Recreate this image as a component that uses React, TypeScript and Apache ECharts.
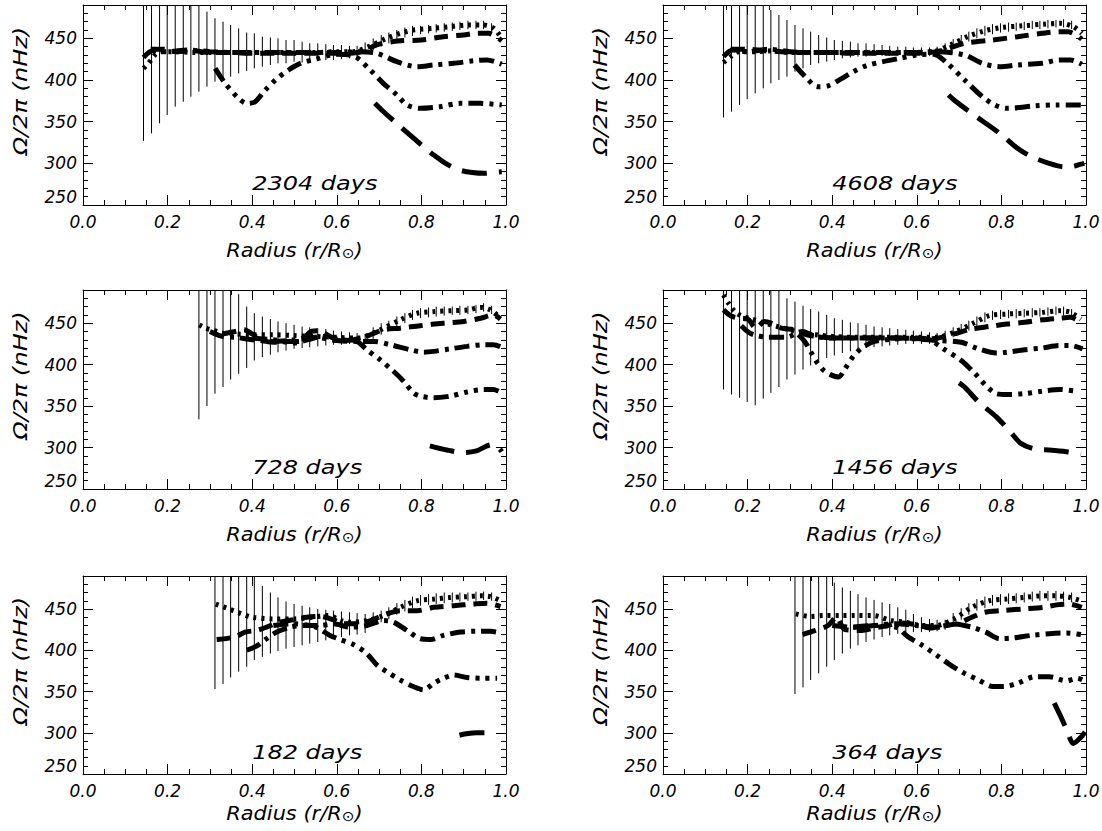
import { useEffect, useRef } from 'react';
import * as echarts from 'echarts';

// ---------- data ----------
const X_TICKS = [0, 0.2, 0.4, 0.6, 0.8, 1.0];
const Y_TICKS = [250, 300, 350, 400, 450];
const PANEL_LABELS = ['2304 days', '4608 days', '728 days', '1456 days', '182 days', '364 days'];

// radial positions of the error bars
const R_GRID = [0.143, 0.162, 0.181, 0.199, 0.218, 0.237, 0.255, 0.274, 0.293, 0.312, 0.331, 0.349, 0.368, 0.387, 0.405, 0.424, 0.443, 0.461, 0.480, 0.499, 0.518, 0.536, 0.555, 0.574, 0.592, 0.611, 0.630, 0.648, 0.667, 0.686, 0.705, 0.723, 0.742, 0.761, 0.779, 0.798, 0.817, 0.835, 0.854, 0.873, 0.891, 0.910, 0.929, 0.947, 0.966, 0.985];

const E2304_LO = [327, 336, 348, 358, 368, 374, 380, 386, 392, 398, 402, 404, 408, 411, 414, 416, 418, 420, 420, 422, 421, 422, 423, 424, 424, 425, 426, 426, 431, 436, 440, 444, 448, 451, 453, 455, 456, 457, 458, 459, 460, 461, 461, 461, 458, null];
const E2304_HI = [545, 535, 525, 515, 506, 500, 496, 492, 482, 474, 470, 466, 462, 457, 456, 452, 451, 450, 448, 448, 446, 444, 444, 443, 442, 442, 441, 441, 445, 450, 454, 457, 460, 463, 465, 465, 466, 467, 468, 469, 470, 471, 471, 471, 468, null];
const E4608_LO = [355, 362, 370, 377, 384, 390, 396, 400, 404, 410, 414, 418, 420, 422, 424, 426, 427, 428, 428, 429, 429, 429, 429, 429, 429, 429, 429, 430, 434, 438, 442, 446, 450, 453, 455, 457, 458, 459, 460, 461, 461, 462, 463, 463, 461, null];
const E4608_HI = [545, 535, 525, 515, 505, 495, 484, 478, 472, 466, 462, 458, 454, 451, 448, 447, 446, 444, 444, 443, 442, 441, 440, 440, 439, 439, 439, 440, 444, 449, 454, 458, 462, 465, 467, 468, 469, 469, 470, 471, 471, 472, 472, 473, 471, null];
const E728_LO = [null, null, null, null, null, null, null, 334, 350, 365, 373, 382, 389, 396, 405, 409, 412, 415, 417, 419, 420, 421, 422, 423, 424, 424, 425, 425, 426, 431, 436, 441, 446, 450, 454, 456, 457, 458, 459, 460, 460, 461, 462, 464, 461, null];
const E728_HI = [null, null, null, null, null, null, null, 540, 525, 512, 503, 497, 485, 470, 462, 458, 455, 452, 450, 448, 446, 445, 444, 443, 441, 440, 439, 438, 437, 445, 450, 453, 458, 462, 466, 468, 469, 470, 470, 470, 471, 471, 472, 474, 471, null];
const E1456_LO = [370, 364, 360, 355, 351, 359, 366, 373, 382, 388, 394, 399, 404, 408, 411, 414, 416, 418, 420, 421, 422, 423, 424, 425, 425, 425, 425, 426, 429, 433, 437, 441, 446, 451, 454, 455, 456, 456, 457, 457, 458, 459, 460, 459, 457, null];
const E1456_HI = [530, 530, 528, 525, 520, 515, 510, 500, 480, 476, 471, 467, 464, 460, 456, 454, 451, 450, 448, 446, 445, 444, 443, 442, 441, 440, 439, 438, 441, 445, 449, 453, 458, 463, 465, 466, 466, 467, 467, 468, 468, 469, 470, 470, 467, null];
const E182_LO = [null, null, null, null, null, null, null, null, null, 353, 359, 367, 374, 380, 388, 392, 396, 399, 402, 404, 406, 408, 410, 412, 414, 416, 418, 419, 421, 430, 434, 438, 443, 447, 451, 454, 455, 456, 457, 458, 459, 460, 460, 461, 460, null];
const E182_HI = [null, null, null, null, null, null, null, null, null, 545, 535, 525, 515, 505, 495, 478, 470, 464, 459, 456, 454, 452, 450, 449, 448, 447, 446, 445, 444, 446, 448, 452, 457, 461, 465, 467, 468, 469, 470, 470, 470, 470, 471, 471, 470, null];
const E364_LO = [null, null, null, null, null, null, null, null, null, 347, 355, 364, 372, 380, 388, 396, 402, 406, 410, 413, 416, 418, 420, 422, 422, 422, 422, 423, 425, 431, 437, 443, 448, 451, 454, 455, 456, 457, 458, 459, 460, 460, 460, 459, 458, null];
const E364_HI = [null, null, null, null, null, null, null, null, null, 550, 540, 530, 520, 505, 482, 476, 472, 468, 464, 461, 458, 456, 452, 449, 444, 440, 438, 437, 437, 445, 451, 457, 462, 465, 467, 468, 469, 469, 470, 471, 472, 472, 472, 471, 470, null];

// 2304 days
const D2304_DOT = [[0.143, 414], [0.155, 420], [0.17, 430], [0.185, 434], [0.22, 434], [0.26, 433], [0.3, 433], [0.35, 433], [0.4, 433], [0.45, 433], [0.5, 433], [0.55, 433], [0.6, 434], [0.64, 434], [0.675, 440], [0.718, 450], [0.75, 456], [0.781, 460], [0.829, 462], [0.868, 464], [0.908, 466], [0.947, 466], [0.971, 462], [0.99, 450]];
const D2304_DASH = [[0.16, 437], [0.19, 437], [0.22, 434], [0.26, 435], [0.3, 433], [0.35, 433], [0.4, 432], [0.45, 432], [0.5, 432], [0.55, 432], [0.6, 432], [0.65, 433], [0.7, 443], [0.75, 447], [0.8, 448], [0.852, 452], [0.9, 454], [0.931, 456], [0.959, 456], [0.99, 447]];
const D2304_DASHDOT = [[0.143, 427], [0.165, 435], [0.2, 434], [0.25, 436], [0.3, 434], [0.35, 433], [0.4, 433], [0.45, 433], [0.5, 433], [0.55, 433], [0.6, 433], [0.655, 434], [0.695, 432], [0.742, 422], [0.789, 416], [0.829, 418], [0.876, 420], [0.923, 423], [0.955, 424], [0.99, 419]];
const D2304_DASH3DOT = [[0.3125, 414], [0.336, 396], [0.368, 378], [0.388, 372], [0.407, 374], [0.431, 388], [0.455, 400], [0.486, 412], [0.514, 420], [0.55, 425], [0.6, 431], [0.64, 429], [0.679, 412], [0.71, 396], [0.742, 382], [0.766, 370], [0.797, 366], [0.844, 368], [0.892, 372], [0.939, 372], [0.99, 370]];
const D2304_LONGDASH = [[0.69, 372], [0.706, 364], [0.75, 344], [0.805, 320], [0.829, 310], [0.86, 299], [0.89, 292], [0.92, 289], [0.95, 288], [0.97, 289], [0.99, 290]];

// 4608 days
const D4608_DOT = [[0.143, 421], [0.16, 428], [0.18, 434], [0.22, 434], [0.26, 435], [0.3, 433], [0.35, 433], [0.4, 433], [0.45, 433], [0.5, 433], [0.55, 433], [0.6, 433], [0.64, 434], [0.68, 442], [0.72, 452], [0.76, 459], [0.8, 463], [0.85, 465], [0.9, 467], [0.94, 468], [0.97, 464], [0.99, 456]];
const D4608_DASH = [[0.16, 437], [0.2, 437], [0.24, 435], [0.28, 434], [0.32, 433], [0.4, 433], [0.45, 432], [0.5, 432], [0.55, 432], [0.6, 432], [0.655, 435], [0.713, 444], [0.78, 448], [0.838, 452], [0.896, 456], [0.937, 458], [0.958, 458], [0.99, 449]];
const D4608_DASHDOT = [[0.143, 428], [0.165, 436], [0.2, 434], [0.25, 437], [0.3, 434], [0.35, 433], [0.4, 433], [0.5, 433], [0.6, 433], [0.647, 434], [0.713, 430], [0.755, 420], [0.796, 416], [0.838, 418], [0.896, 420], [0.937, 424], [0.963, 424], [0.99, 419]];
const D4608_DASH3DOT = [[0.311, 418], [0.34, 402], [0.365, 392], [0.39, 393], [0.42, 401], [0.45, 410], [0.48, 417], [0.52, 422], [0.56, 426], [0.6, 430], [0.64, 431], [0.672, 420], [0.713, 400], [0.755, 380], [0.784, 370], [0.813, 366], [0.88, 369], [0.929, 370], [0.99, 370]];
const D4608_LONGDASH = [[0.675, 382], [0.688, 376], [0.73, 360], [0.796, 336], [0.838, 318], [0.871, 308], [0.913, 300], [0.946, 296], [0.963, 296], [0.988, 299], [0.996, 300]];

// 728 days
const D728_DOT = [[0.275, 448], [0.29, 444], [0.31, 441], [0.33, 438], [0.36, 437], [0.4, 436], [0.45, 436], [0.5, 435], [0.55, 434], [0.6, 433], [0.65, 432], [0.695, 440], [0.75, 454], [0.79, 462], [0.83, 464], [0.87, 465], [0.91, 466], [0.94, 469], [0.963, 466], [0.987, 456]];
const D728_DASH = [[0.33, 437], [0.36, 440], [0.38, 442], [0.4, 437], [0.42, 430], [0.45, 427], [0.48, 428], [0.51, 428], [0.54, 440], [0.56, 441], [0.58, 435], [0.61, 429], [0.64, 430], [0.67, 434], [0.71, 442], [0.75, 444], [0.797, 447], [0.852, 450], [0.9, 452], [0.94, 456], [0.97, 460], [0.987, 455]];
const D728_DASHDOT = [[0.3, 440], [0.33, 434], [0.36, 433], [0.4, 430], [0.45, 428], [0.5, 430], [0.55, 433], [0.6, 429], [0.65, 428], [0.687, 428], [0.726, 424], [0.773, 418], [0.805, 415], [0.829, 416], [0.868, 419], [0.908, 422], [0.947, 424], [0.97, 424], [0.994, 420]];
const D728_DASH3DOT = [[0.4, 432], [0.45, 430], [0.5, 426], [0.53, 430], [0.57, 434], [0.61, 430], [0.647, 428], [0.671, 418], [0.702, 406], [0.734, 392], [0.758, 380], [0.781, 366], [0.797, 362], [0.829, 360], [0.868, 362], [0.908, 367], [0.947, 370], [0.97, 370], [0.99, 366]];
const D728_LONGDASH = [[0.82, 302], [0.86, 297], [0.9, 294], [0.93, 296], [0.955, 302], [0.972, 304], [0.99, 295]];

// 1456 days
const D1456_DOT = [[0.143, 484], [0.155, 474], [0.17, 464], [0.185, 459], [0.21, 455], [0.24, 450], [0.27, 446], [0.3, 442], [0.33, 438], [0.36, 436], [0.4, 434], [0.45, 433], [0.5, 433], [0.55, 433], [0.6, 433], [0.647, 433], [0.688, 439], [0.73, 449], [0.771, 459], [0.813, 461], [0.855, 462], [0.896, 463], [0.938, 465], [0.963, 463], [0.988, 455]];
const D1456_DASH = [[0.143, 466], [0.16, 459], [0.18, 456], [0.2, 455], [0.22, 444], [0.24, 452], [0.26, 449], [0.28, 444], [0.31, 442], [0.34, 436], [0.38, 433], [0.42, 432], [0.47, 432], [0.52, 432], [0.57, 432], [0.62, 431], [0.65, 432], [0.688, 437], [0.73, 443], [0.771, 446], [0.813, 449], [0.855, 451], [0.896, 454], [0.938, 456], [0.963, 457], [0.988, 451]];
const D1456_DASHDOT = [[0.185, 447], [0.2, 440], [0.215, 436], [0.25, 433], [0.29, 433], [0.33, 440], [0.36, 434], [0.4, 432], [0.45, 432], [0.5, 432], [0.55, 432], [0.6, 431], [0.647, 429], [0.705, 427], [0.746, 419], [0.788, 414], [0.813, 415], [0.855, 418], [0.896, 420], [0.938, 423], [0.963, 423], [0.992, 419]];
const D1456_DASH3DOT = [[0.32, 436], [0.335, 428], [0.35, 415], [0.365, 402], [0.38, 393], [0.4, 387], [0.415, 385], [0.43, 395], [0.45, 410], [0.47, 420], [0.5, 428], [0.55, 431], [0.6, 432], [0.63, 430], [0.663, 419], [0.705, 405], [0.738, 389], [0.763, 375], [0.788, 365], [0.813, 364], [0.855, 365], [0.896, 368], [0.938, 370], [0.979, 368]];
const D1456_LONGDASH = [[0.7, 378], [0.713, 373], [0.746, 355], [0.788, 337], [0.821, 319], [0.846, 305], [0.88, 298], [0.913, 297], [0.954, 295], [0.988, 292]];

// 182 days
const D182_DOT = [[0.314, 456], [0.34, 451], [0.37, 445], [0.4, 440], [0.45, 438], [0.5, 438], [0.54, 440], [0.58, 442], [0.61, 436], [0.631, 434], [0.671, 436], [0.71, 442], [0.75, 452], [0.79, 460], [0.83, 462], [0.868, 464], [0.908, 465], [0.94, 466], [0.963, 465], [0.987, 460]];
const D182_DASH = [[0.316, 413], [0.359, 416], [0.383, 422], [0.41, 424], [0.434, 428], [0.458, 433], [0.497, 437], [0.529, 440], [0.56, 441], [0.592, 437], [0.616, 432], [0.647, 432], [0.68, 436], [0.718, 444], [0.75, 448], [0.79, 448], [0.83, 452], [0.876, 454], [0.923, 456], [0.955, 457], [0.987, 453]];
const D182_DASHDOT = [[0.387, 400], [0.41, 405], [0.434, 414], [0.458, 422], [0.489, 428], [0.521, 430], [0.56, 430], [0.592, 432], [0.631, 428], [0.671, 430], [0.71, 436], [0.734, 434], [0.766, 424], [0.797, 414], [0.821, 413], [0.852, 418], [0.892, 422], [0.931, 423], [0.963, 423], [0.987, 421]];
const D182_DASH3DOT = [[0.45, 430], [0.5, 432], [0.55, 428], [0.584, 418], [0.608, 413], [0.639, 407], [0.671, 396], [0.695, 382], [0.718, 374], [0.75, 364], [0.781, 356], [0.805, 352], [0.829, 360], [0.852, 366], [0.876, 370], [0.908, 367], [0.947, 366], [0.979, 366]];
const D182_LONGDASH = [[0.89, 297], [0.91, 299], [0.93, 300], [0.955, 300]];

// 364 days
const D364_DOT = [[0.314, 444], [0.347, 441], [0.38, 442], [0.422, 442], [0.455, 442], [0.497, 442], [0.539, 436], [0.572, 434], [0.613, 430], [0.647, 430], [0.688, 438], [0.73, 452], [0.771, 460], [0.813, 462], [0.855, 464], [0.896, 466], [0.93, 466], [0.963, 464], [0.988, 460]];
const D364_DASH = [[0.33, 419], [0.36, 424], [0.39, 430], [0.41, 440], [0.43, 425], [0.47, 424], [0.5, 427], [0.53, 430], [0.56, 433], [0.6, 431], [0.63, 427], [0.67, 430], [0.7, 433], [0.73, 440], [0.76, 446], [0.8, 448], [0.85, 450], [0.9, 452], [0.93, 455], [0.96, 456], [0.99, 452]];
const D364_DASHDOT = [[0.4, 430], [0.45, 428], [0.5, 430], [0.55, 432], [0.6, 430], [0.65, 428], [0.688, 432], [0.73, 428], [0.763, 422], [0.796, 414], [0.83, 415], [0.871, 418], [0.913, 420], [0.954, 421], [0.988, 419]];
const D364_DASH3DOT = [[0.45, 428], [0.5, 430], [0.55, 428], [0.58, 416], [0.613, 406], [0.647, 394], [0.68, 382], [0.713, 372], [0.746, 364], [0.78, 356], [0.805, 356], [0.838, 360], [0.88, 368], [0.913, 368], [0.954, 363], [0.979, 366], [0.996, 363]];
const D364_LONGDASH = [[0.925, 336], [0.94, 320], [0.955, 303], [0.97, 287], [0.985, 293], [0.998, 301]];

// ---------- table built from the arrays ----------
const PANELS = [
  { label: PANEL_LABELS[0], lo: E2304_LO, hi: E2304_HI, curves: [D2304_DOT, D2304_DASH, D2304_DASHDOT, D2304_DASH3DOT, D2304_LONGDASH] },
  { label: PANEL_LABELS[1], lo: E4608_LO, hi: E4608_HI, curves: [D4608_DOT, D4608_DASH, D4608_DASHDOT, D4608_DASH3DOT, D4608_LONGDASH] },
  { label: PANEL_LABELS[2], lo: E728_LO, hi: E728_HI, curves: [D728_DOT, D728_DASH, D728_DASHDOT, D728_DASH3DOT, D728_LONGDASH] },
  { label: PANEL_LABELS[3], lo: E1456_LO, hi: E1456_HI, curves: [D1456_DOT, D1456_DASH, D1456_DASHDOT, D1456_DASH3DOT, D1456_LONGDASH] },
  { label: PANEL_LABELS[4], lo: E182_LO, hi: E182_HI, curves: [D182_DOT, D182_DASH, D182_DASHDOT, D182_DASH3DOT, D182_LONGDASH] },
  { label: PANEL_LABELS[5], lo: E364_LO, hi: E364_HI, curves: [D364_DOT, D364_DASH, D364_DASHDOT, D364_DASH3DOT, D364_LONGDASH] },
];

// ---------- styles / layout ----------
const LINE_DASHES: number[][] = [
  [3, 5],
  [14, 8],
  [15, 6, 4, 6],
  [15, 6, 4, 6, 4, 6, 4, 6],
  [25, 12],
];
const COL_LEFT = [83, 663];
const COL_WIDTH = 423;
const ROW_TOP = [5, 290, 576];
const ROW_HEIGHT = [200, 199, 198];
const XTITLE_GAP = [42, 42, 36];
const FONT = '"DejaVu Sans", Verdana, sans-serif';
const Y_MIN = 250;
const Y_MAX = 490;

function buildOption() {
  const grid: any[] = [];
  const xAxis: any[] = [];
  const yAxis: any[] = [];
  const series: any[] = [];
  const graphic: any[] = [];

  const axisLine = { show: true, onZero: false, lineStyle: { color: '#000', width: 1 } };
  const tickStyle = { color: '#000', width: 1 };
  const labelBase = { color: '#000', fontFamily: FONT, fontStyle: 'italic', fontSize: 17 };

  PANELS.forEach((p, i) => {
    const row = Math.floor(i / 2);
    const col = i % 2;
    const left = COL_LEFT[col];
    const top = ROW_TOP[row];
    const width = COL_WIDTH;
    const height = ROW_HEIGHT[row];
    grid.push({ left, top, width, height, containLabel: false, outerBoundsMode: 'none' });

    const xBase = {
      type: 'value', gridIndex: i, min: X_TICKS[0], max: X_TICKS[X_TICKS.length - 1], interval: 0.2,
      axisLine, splitLine: { show: false },
      axisTick: { show: true, inside: true, length: 10, lineStyle: tickStyle },
      minorTick: { show: true, splitNumber: 4, length: 5, lineStyle: tickStyle },
    };
    xAxis.push({ ...xBase, position: 'bottom',
      axisLabel: { ...labelBase, show: true, margin: 8, formatter: (v: number) => v.toFixed(1) } });
    xAxis.push({ ...xBase, position: 'top', axisLabel: { show: false } });

    const yMinor = {
      type: 'value', gridIndex: i, min: Y_MIN, max: Y_MAX, interval: 10,
      axisLine, splitLine: { show: false },
      axisTick: { show: true, inside: true, length: 5, lineStyle: tickStyle },
    };
    const yMajor = {
      type: 'value', gridIndex: i, min: Y_MIN, max: Y_MAX, interval: 50,
      axisLine: { show: false, onZero: false }, splitLine: { show: false },
      axisTick: { show: true, inside: true, length: 10, lineStyle: tickStyle },
      axisLabel: { show: false },
    };
    yAxis.push({ ...yMinor, position: 'left',
      axisLabel: { ...labelBase, show: true, margin: 6, showMaxLabel: false, verticalAlignMinLabel: 'bottom',
        formatter: (v: number) => (Y_TICKS.indexOf(Math.round(v)) >= 0 ? String(Math.round(v)) : '') } });
    yAxis.push({ ...yMajor, position: 'left' });
    yAxis.push({ ...yMinor, position: 'right', axisLabel: { show: false } });
    yAxis.push({ ...yMajor, position: 'right' });

    const xIdx = i * 2;
    const yIdx = i * 4;

    const errData: number[][] = [];
    R_GRID.forEach((r, k) => {
      const lo = p.lo[k];
      const hi = p.hi[k];
      if (lo != null && hi != null) errData.push([r, lo, hi]);
    });
    series.push({
      type: 'custom', xAxisIndex: xIdx, yAxisIndex: yIdx, clip: true, z: 1,
      encode: { x: 0, y: [1, 2] },
      data: errData,
      renderItem: (_params: any, api: any) => {
        const r = api.value(0);
        const lo = Math.max(api.value(1), Y_MIN);
        const hi = Math.min(api.value(2), Y_MAX);
        const a = api.coord([r, lo]);
        const b = api.coord([r, hi]);
        return { type: 'line', shape: { x1: a[0], y1: a[1], x2: b[0], y2: b[1] }, style: { stroke: '#000', lineWidth: 1 } };
      },
    });

    p.curves.forEach((c, j) => {
      series.push({
        type: 'line', xAxisIndex: xIdx, yAxisIndex: yIdx, data: c, symbol: 'none', showSymbol: false,
        smooth: 0.3, clip: true, z: 3, silent: true,
        lineStyle: { color: '#000', width: 5, type: LINE_DASHES[j], cap: 'butt' },
      });
    });

    graphic.push({
      type: 'text', x: left + 0.4 * width, y: top + height - 22, scaleX: 1.2, silent: true,
      style: { text: p.label, fill: '#000', font: `italic 20px ${FONT}`, align: 'left', verticalAlign: 'middle', textAlign: 'left', textVerticalAlign: 'middle' },
    });
    graphic.push({
      type: 'text', x: left + width / 2, y: top + height + XTITLE_GAP[row], scaleX: 1.1, silent: true,
      style: {
        text: '{a|Radius (r/R}{b|⊙}{a|)}', align: 'center', verticalAlign: 'middle', textAlign: 'center', textVerticalAlign: 'middle',
        rich: {
          a: { fontFamily: FONT, fontStyle: 'italic', fontSize: 19, color: '#000', lineHeight: 26, verticalAlign: 'bottom' },
          b: { fontFamily: FONT, fontSize: 14, color: '#000', lineHeight: 15, verticalAlign: 'bottom' },
        },
      },
    });
    graphic.push({
      type: 'text', x: left - 63, y: top + height / 2 - 14, rotation: Math.PI / 2, scaleX: 1.2, silent: true,
      style: { text: 'Ω/2π (nHz)', fill: '#000', font: `italic 20px ${FONT}`, align: 'center', verticalAlign: 'middle', textAlign: 'center', textVerticalAlign: 'middle' },
    });
  });

  return { animation: false, backgroundColor: '#fff', grid, xAxis, yAxis, series, graphic };
}

export default function App() {
  const ref = useRef<HTMLDivElement>(null);
  useEffect(() => {
    const chart = echarts.init(ref.current as HTMLDivElement, null, { renderer: 'svg' });
    chart.setOption(buildOption() as any);
    return () => chart.dispose();
  }, []);
  return (
    <div
      ref={ref}
      style={{ position: 'absolute', left: 0, top: 0, width: 1102, height: 831, background: '#fff' }}
    />
  );
}
